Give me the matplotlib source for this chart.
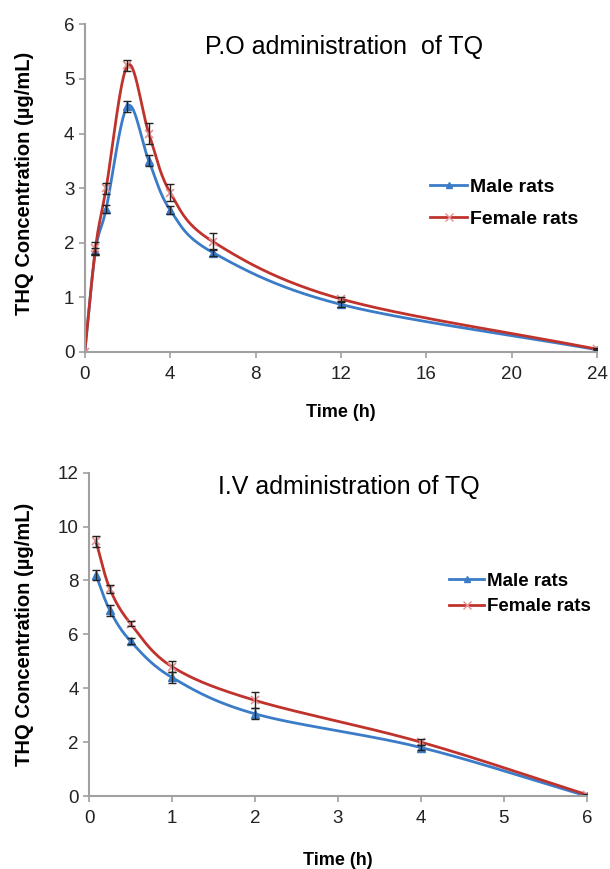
import numpy as np
import matplotlib
matplotlib.use("Agg")
from matplotlib import pyplot as plt

plt.rcParams['font.family'] = ['Liberation Sans', 'DejaVu Sans']

# P.O data
po_time = [0, 0.5, 1, 2, 3, 4, 6, 12, 24]
po_male = [0, 1.85, 2.62, 4.5, 3.5, 2.6, 1.82, 0.87, 0.04]
po_male_err = [0, 0.05, 0.08, 0.1, 0.1, 0.08, 0.06, 0.04, 0.02]
po_female = [0, 1.9, 3.0, 5.25, 4.0, 2.92, 2.02, 0.97, 0.05]
po_female_err = [0, 0.12, 0.1, 0.1, 0.2, 0.15, 0.15, 0.04, 0.02]

# I.V data
iv_time = [0.083, 0.25, 0.5, 1, 2, 4, 6]
iv_male = [8.2, 6.9, 5.75, 4.4, 3.05, 1.8, 0.0]
iv_male_err = [0.2, 0.2, 0.1, 0.2, 0.2, 0.1, 0.02]
iv_female = [9.45, 7.7, 6.4, 4.8, 3.55, 2.0, 0.05]
iv_female_err = [0.2, 0.15, 0.1, 0.2, 0.3, 0.1, 0.02]

blue = '#3b7cc8'
red = '#c0332d'
grey = '#a0a0a0'


def smooth(x, y, n=30):
    # catmull-rom curve through the points, like excel's smoothed line
    x = np.asarray(x, float)
    y = np.asarray(y, float)
    px = np.concatenate([[2 * x[0] - x[1]], x, [2 * x[-1] - x[-2]]])
    py = np.concatenate([[2 * y[0] - y[1]], y, [2 * y[-1] - y[-2]]])
    xs, ys = [], []
    t = np.linspace(0, 1, n)
    for i in range(1, len(px) - 2):
        for arr, out in ((px, xs), (py, ys)):
            p0, p1, p2, p3 = arr[i - 1], arr[i], arr[i + 1], arr[i + 2]
            out.append(0.5 * ((2 * p1) + (-p0 + p2) * t
                              + (2 * p0 - 5 * p1 + 4 * p2 - p3) * t ** 2
                              + (-p0 + 3 * p1 - 3 * p2 + p3) * t ** 3))
    return np.concatenate(xs), np.concatenate(ys)


def draw(ax, x, male, male_err, female, female_err):
    sx, sy = smooth(x, male)
    ax.plot(sx, sy, color=blue, lw=2)
    ax.plot(x, male, '^', color=blue, ms=6)
    sx, sy = smooth(x, female)
    ax.plot(sx, sy, color=red, lw=2)
    ax.plot(x, female, 'x', color='#e89090', ms=6, mew=1.2)
    ax.errorbar(x, male, yerr=male_err, fmt='none', ecolor='#222222',
                elinewidth=1, capsize=3)
    ax.errorbar(x, female, yerr=female_err, fmt='none', ecolor='#222222',
                elinewidth=1, capsize=3)
    ax.plot([], [], color=blue, lw=2, marker='^', ms=5, label='Male rats')
    ax.plot([], [], color=red, lw=2, marker='x', ms=6, mec='#e89090',
            label='Female rats')
    for s in ['top', 'right']:
        ax.spines[s].set_visible(False)
    for s in ['left', 'bottom']:
        ax.spines[s].set_color(grey)
        ax.spines[s].set_linewidth(1.5)
    ax.tick_params(colors=grey, labelcolor='#222222', labelsize=13.5,
                   length=4, width=1.2)
    ax.tick_params(axis='x', pad=6)
    ax.set_ylabel('THQ Concentration (µg/mL)', fontsize=14.5, fontweight='bold')


fig = plt.figure(figsize=(6.1, 8.69), dpi=100)

ax1 = fig.add_axes([0.139, 0.595, 0.840, 0.377])
draw(ax1, po_time, po_male, po_male_err, po_female, po_female_err)
ax1.set_xlim(0, 24)
ax1.set_ylim(0, 6)
ax1.set_xticks([0, 4, 8, 12, 16, 20, 24])
ax1.set_yticks(range(7))
ax1.set_xlabel('Time (h)', fontsize=13, fontweight='bold', labelpad=15)
ax1.text(0.235, 0.93, 'P.O administration  of TQ', transform=ax1.transAxes,
         ha='left', va='center', fontsize=18)
ax1.legend(loc='upper left', bbox_to_anchor=(0.655, 0.56), frameon=False,
           prop={'weight': 'bold', 'size': 14}, handlelength=1.9,
           handletextpad=0.15, labelspacing=0.75, borderpad=0)
ax1.yaxis.set_label_coords(-0.10, 0.515)

ax2 = fig.add_axes([0.146, 0.084, 0.816, 0.372])
draw(ax2, iv_time, iv_male, iv_male_err, iv_female, iv_female_err)
ax2.set_xlim(0, 6)
ax2.set_ylim(0, 12)
ax2.set_xticks(range(7))
ax2.set_yticks(range(0, 13, 2))
ax2.set_xlabel('Time (h)', fontsize=13, fontweight='bold', labelpad=18)
ax2.text(0.26, 0.955, 'I.V administration of TQ', transform=ax2.transAxes,
         ha='left', va='center', fontsize=18)
ax2.legend(loc='upper left', bbox_to_anchor=(0.704, 0.72), frameon=False,
           prop={'weight': 'bold', 'size': 13.5}, handlelength=1.9,
           handletextpad=0.15, labelspacing=0.45, borderpad=0)
ax2.yaxis.set_label_coords(-0.11, 0.5)

fig.savefig('out.png', dpi=100)
